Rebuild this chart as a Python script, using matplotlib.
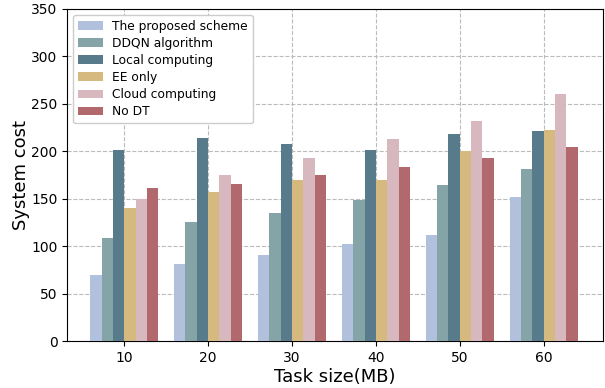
import numpy as np
import matplotlib.pyplot as plt

sizes = ['10', '20', '30', '40', '50', '60']
proposed = [70, 82, 91, 103, 112, 152]
ddqn = [109, 126, 135, 149, 165, 182]
local = [201, 214, 208, 202, 218, 222]
ee_only = [140, 157, 170, 170, 200, 223]
cloud = [150, 175, 193, 213, 232, 260]
no_dt = [161, 166, 175, 184, 193, 205]

series = [proposed, ddqn, local, ee_only, cloud, no_dt]
names = ['The proposed scheme', 'DDQN algorithm', 'Local computing',
         'EE only', 'Cloud computing', 'No DT']
colors = ['#B0C0DD', '#84A4A8', '#577B8B', '#D5B97F', '#D8B8BF', '#B2696D']

fig, ax = plt.subplots(figsize=(6.05, 3.88), dpi=100)
x = np.arange(len(sizes))
w = 0.135
for i, (vals, name, c) in enumerate(zip(series, names, colors)):
    ax.bar(x + (i - 2.5) * w, vals, w, color=c, label=name, zorder=3)

ax.set_xticks(x)
ax.set_xticklabels(sizes)
ax.set_xlim(-0.68, 5.71)
ax.set_ylim(0, 350)
ax.set_xlabel('Task size(MB)', fontsize=13, labelpad=2)
ax.set_ylabel('System cost', fontsize=13, labelpad=0.5)
ax.grid(True, linestyle='--', color='#bbbbbb', zorder=0)
ax.legend(loc='upper left', fontsize=8.8, handlelength=2, labelspacing=0.33,
          framealpha=1)
plt.subplots_adjust(left=0.111, right=0.997, top=0.977, bottom=0.12)
plt.savefig('out.png')
